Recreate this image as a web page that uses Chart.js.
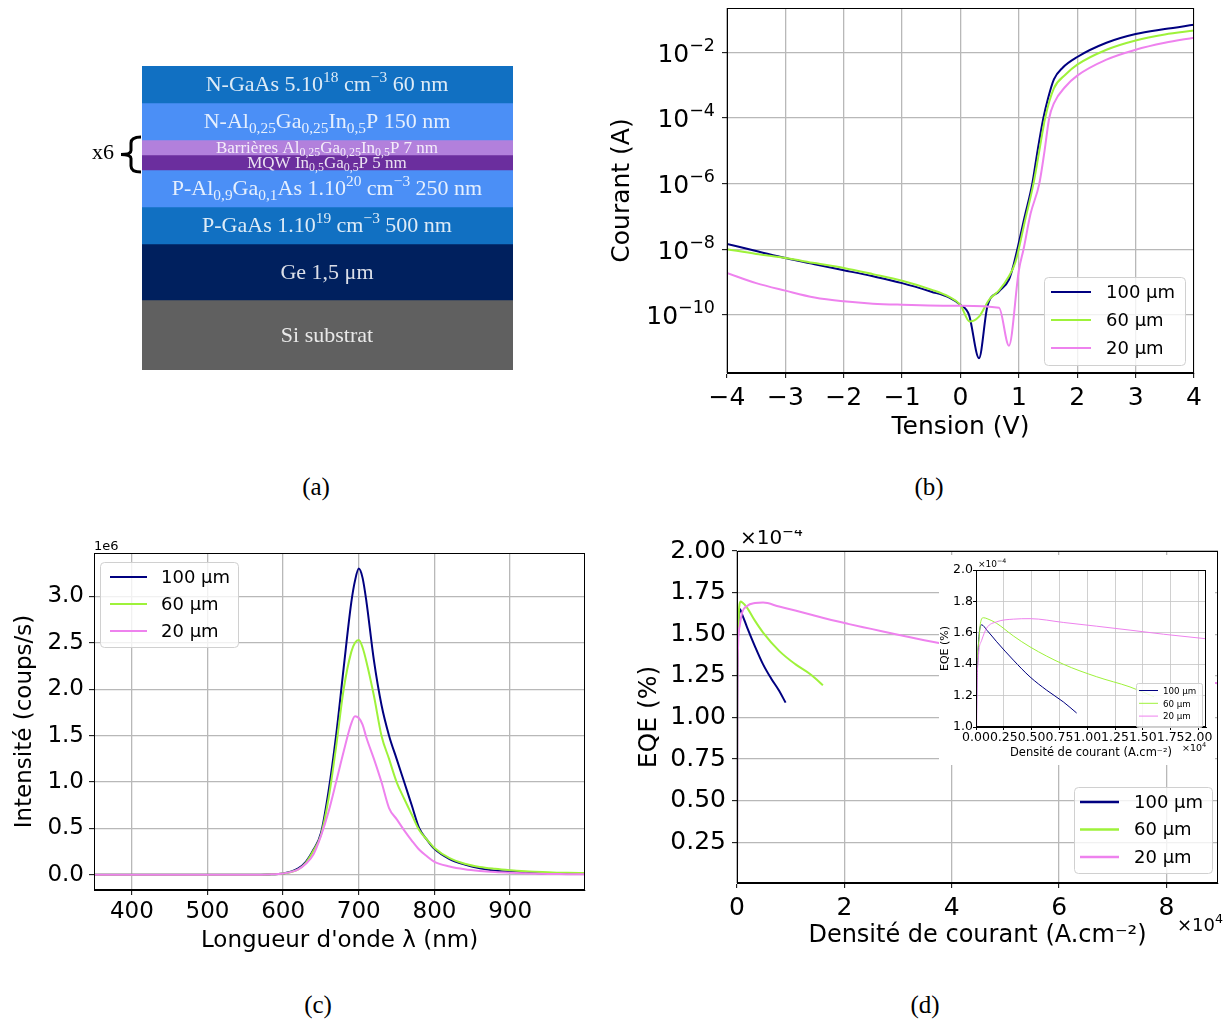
<!DOCTYPE html>
<html>
<head>
<meta charset="utf-8">
<script src="https://cdn.jsdelivr.net/npm/chart.js@4.4.1/dist/chart.umd.min.js"></script>
<style>
  html, body { margin: 0; padding: 0; background: #fff; }
  #fig { position: relative; width: 1224px; height: 1025px; overflow: hidden; background: #fff; }
  .panel { position: absolute; }
  .panel canvas { display: block; }
  .cap { position: absolute; transform: translate(-50%, -50%); font: 25px "Liberation Serif", "DejaVu Serif", serif; color: #000; }
</style>
</head>
<body>
<div id="fig">
  <div class="panel" style="left:80px;top:60px"><canvas id="stack" width="450" height="320"></canvas></div>
  <div class="panel" style="left:600px;top:0px"><canvas id="iv" width="624" height="450"></canvas></div>
  <div class="panel" style="left:0px;top:530px"><canvas id="spec" width="600" height="430"></canvas></div>
  <div class="panel" style="left:600px;top:530px"><canvas id="eqe" width="624" height="430"></canvas></div>
  <div class="panel" style="left:939px;top:555px"><canvas id="eqeZoom" width="276" height="210"></canvas></div>
  <div class="cap" style="left:316px;top:487px">(a)</div>
  <div class="cap" style="left:929px;top:487px">(b)</div>
  <div class="cap" style="left:318px;top:1005px">(c)</div>
  <div class="cap" style="left:925px;top:1005px">(d)</div>
</div>
<script>
"use strict";

// ── (a) layer stack (schematic thickness, not to scale) ───────────────
const layerLabels = [
  'N-GaAs 5.10^{18} cm^{\u22123} 60 nm',
  'N-Al_{0,25}Ga_{0,25}In_{0,5}P 150 nm',
  'Barri\u00e8res Al_{0,25}Ga_{0,25}In_{0,5}P 7 nm',
  'MQW In_{0,5}Ga_{0,5}P 5 nm',
  'P-Al_{0,9}Ga_{0,1}As 1.10^{20} cm^{\u22123} 250 nm',
  'P-GaAs 1.10^{19} cm^{\u22123} 500 nm',
  'Ge 1,5 \u03bcm',
  'Si substrat'
];
const layerThickness = [37, 37, 15, 15, 37, 37, 56, 70];
const layerColors = ['#1170c2', '#4b8ff6', '#b280dc', '#6b2e9e', '#4b8ff6', '#1170c2', '#00205e', '#606060'];
const layerFont = [22, 22, 17, 17, 22, 22, 22, 22];

// ── shared series ─────────────────────────────────────────────────────
const seriesLabels = ['100 \u00b5m', '60 \u00b5m', '20 \u00b5m'];
const seriesColors = ['#000080', '#9ef23a', '#ee82ee'];

// ── (b) I–V, log scale ────────────────────────────────────────────────
const ivV100 = [-4, -3.5, -3, -2.5, -2, -1.5, -1, -0.5, -0.2, 0, 0.146, 0.317, 0.46, 0.66, 0.83, 0.91, 1.1, 1.23, 1.32, 1.42, 1.5, 1.6, 1.75, 2, 2.5, 3, 3.5, 4];
const ivI100 = [1.45e-8, 8.9e-9, 5.4e-9, 3.5e-9, 2.3e-9, 1.5e-9, 9.3e-10, 5.1e-10, 3.4e-10, 2.0e-10, 1.0e-10, 4.8e-12, 1.8e-10, 5.2e-10, 1.2e-9, 3.4e-9, 1e-7, 1e-6, 1e-5, 1e-4, 4e-4, 1.5e-3, 3.4e-3, 7.2e-3, 1.95e-2, 3.6e-2, 5.1e-2, 6.9e-2];
const ivV60 = [-4, -3.5, -3, -2.5, -2, -1.5, -1, -0.5, -0.2, 0, 0.154, 0.317, 0.49, 0.66, 0.83, 0.94, 1.1, 1.25, 1.35, 1.45, 1.6, 1.8, 2, 2.5, 3, 3.5, 4];
const ivI60 = [1e-8, 7.2e-9, 5.4e-9, 3.8e-9, 2.7e-9, 1.75e-9, 1.1e-9, 5.9e-10, 3.6e-10, 2.0e-10, 6.3e-11, 8.9e-11, 2.9e-10, 5.6e-10, 1.5e-9, 4e-9, 6.8e-8, 1e-6, 1e-5, 1e-4, 8e-4, 2.1e-3, 4.2e-3, 1.2e-2, 2.3e-2, 3.5e-2, 4.6e-2];
const ivV20 = [-4, -3.5, -3, -2.5, -2, -1.5, -1, 0, 0.66, 0.83, 1.0, 1.08, 1.2, 1.35, 1.44, 1.52, 1.6, 1.8, 2, 2.5, 3, 3.5, 4];
const ivI20 = [1.9e-9, 9.3e-10, 5.5e-10, 3.4e-10, 2.6e-10, 2.2e-10, 2.05e-10, 1.9e-10, 1.65e-10, 1.15e-11, 2.3e-9, 1e-8, 1.2e-7, 1e-6, 1e-5, 1e-4, 2.8e-4, 9.1e-4, 1.95e-3, 6e-3, 1.2e-2, 1.95e-2, 2.8e-2];
const ivXTicks = [-4, -3, -2, -1, 0, 1, 2, 3, 4];
const ivYTicks = [1e-10, 1e-8, 1e-6, 1e-4, 1e-2];

// ── (c) spectra (intensity ×1e6) ─────────────────────────────────────
const wavelength = [350, 400, 450, 500, 550, 580, 600, 620, 630, 640, 650, 660, 670, 680, 690, 695, 700, 705, 710, 720, 730, 740, 750, 760, 770, 780, 790, 800, 820, 840, 860, 880, 900, 925, 950, 975, 1000];
const spec100 = [0, 0, 0, 0, 0.002, 0.005, 0.015, 0.07, 0.14, 0.27, 0.45, 0.9, 1.5, 2.23, 2.93, 3.17, 3.30, 3.2, 2.95, 2.31, 1.83, 1.5, 1.25, 1.0, 0.75, 0.5, 0.38, 0.28, 0.17, 0.11, 0.07, 0.045, 0.035, 0.025, 0.015, 0.012, 0.01];
const spec60 = [0, 0, 0, 0, 0.002, 0.005, 0.015, 0.06, 0.13, 0.26, 0.43, 0.82, 1.38, 2.0, 2.4, 2.5, 2.53, 2.45, 2.3, 1.93, 1.5, 1.25, 1.0, 0.82, 0.65, 0.48, 0.38, 0.29, 0.18, 0.12, 0.085, 0.065, 0.05, 0.035, 0.028, 0.022, 0.02];
const spec20 = [0, 0, 0, 0, 0.002, 0.005, 0.015, 0.06, 0.12, 0.22, 0.42, 0.68, 1.0, 1.33, 1.63, 1.71, 1.69, 1.62, 1.48, 1.25, 1.0, 0.72, 0.6, 0.48, 0.37, 0.27, 0.2, 0.14, 0.09, 0.06, 0.042, 0.03, 0.022, 0.015, 0.01, 0.008, 0.006];
const specXTicks = [400, 500, 600, 700, 800, 900];
const specYTicks = [0, 0.5, 1.0, 1.5, 2.0, 2.5, 3.0];

// ── (d) EQE (×1e-4 %) vs current density (×1e4 A.cm-2) ───────────────
const eqeJ100 = [0, 0.004, 0.012, 0.025, 0.05, 0.1, 0.186, 0.336, 0.486, 0.636, 0.785, 0.905];
const eqe100 = [0, 1.0, 1.35, 1.56, 1.651, 1.615, 1.543, 1.426, 1.319, 1.234, 1.16, 1.089];
const eqeJ60 = [0, 0.004, 0.02, 0.04, 0.066, 0.1, 0.186, 0.336, 0.486, 0.785, 1.085, 1.385, 1.6];
const eqe60 = [0, 1.2, 1.51, 1.66, 1.696, 1.69, 1.66, 1.58, 1.51, 1.40, 1.32, 1.255, 1.193];
const eqeJ20 = [0, 0.006, 0.02, 0.05, 0.096, 0.186, 0.336, 0.486, 0.785, 1.085, 1.385, 1.685, 2.07, 2.5, 3.0, 3.76, 5, 6, 7, 8, 8.95];
const eqe20 = [0, 1.0, 1.43, 1.55, 1.63, 1.67, 1.687, 1.69, 1.666, 1.642, 1.617, 1.591, 1.562, 1.532, 1.497, 1.447, 1.38, 1.33, 1.285, 1.245, 1.205];
const eqeXTicks = [0, 2, 4, 6, 8];
const eqeYTicks = [0.25, 0.5, 0.75, 1.0, 1.25, 1.5, 1.75, 2.0];
const zoomXTicks = [0, 0.25, 0.5, 0.75, 1.0, 1.25, 1.5, 1.75, 2.0];
const zoomYTicks = [1.0, 1.2, 1.4, 1.6, 1.8, 2.0];

Chart.defaults.font.family = '"DejaVu Sans", sans-serif';
Chart.defaults.color = '#000';

const SANS = '"DejaVu Sans", sans-serif';
const SERIF = '"Liberation Serif", "DejaVu Serif", serif';
const MINUS = '\u2212';

// ── Helpers ───────────────────────────────────────────────────────────
// "_{..}" subscript, "^{..}" superscript
function parseRich(s) {
  const out = [];
  const re = /([_^])\{([^}]*)\}/g;
  let last = 0, m;
  while ((m = re.exec(s))) {
    if (m.index > last) out.push([s.slice(last, m.index), 0]);
    out.push([m[2], m[1] === '_' ? 1 : -1]);
    last = re.lastIndex;
  }
  if (last < s.length) out.push([s.slice(last), 0]);
  return out;
}

// draws rich text; align 'center' or 'left', y is the baseline
function drawRich(ctx, s, x, y, size, family, align) {
  const parts = parseRich(s);
  const fontFor = k => (k ? size * 0.7 : size) + 'px ' + family;
  let w = 0;
  parts.forEach(p => { ctx.font = fontFor(p[1]); w += ctx.measureText(p[0]).width; });
  let cx = align === 'center' ? x - w / 2 : x;
  ctx.textAlign = 'left';
  ctx.textBaseline = 'alphabetic';
  parts.forEach(p => {
    ctx.font = fontFor(p[1]);
    const dy = p[1] === 1 ? size * 0.22 : p[1] === -1 ? -size * 0.42 : 0;
    ctx.fillText(p[0], cx, y + dy);
    cx += ctx.measureText(p[0]).width;
  });
}

const toPoints = (xs, ys) => xs.map((x, i) => ({ x, y: ys[i] }));
const fixTicks = list => s => { s.ticks = list.map(v => ({ value: v })); };
const signed = v => (v < 0 ? MINUS + Math.abs(v) : String(v));

function lineSets(pairs, width) {
  return pairs.map((p, i) => ({
    label: seriesLabels[i],
    data: toPoints(p[0], p[1]),
    borderColor: seriesColors[i],
    backgroundColor: seriesColors[i],
    borderWidth: width,
    pointRadius: 0,
    fill: false,
    cubicInterpolationMode: 'monotone',
    order: 2 - i
  }));
}

const framePlugin = {
  id: 'frame',
  afterDatasetsDraw(chart) {
    const { ctx, chartArea: a } = chart;
    ctx.save();
    ctx.strokeStyle = '#000';
    ctx.lineWidth = 1;
    ctx.strokeRect(Math.round(a.left) + 0.5, Math.round(a.top) + 0.5,
      Math.round(a.right - a.left) - 1, Math.round(a.bottom - a.top) - 1);
    ctx.restore();
  }
};

function boxLegend(cfg) {
  return {
    id: 'boxLegend',
    afterDraw(chart) {
      const ctx = chart.ctx;
      ctx.save();
      ctx.beginPath();
      if (ctx.roundRect) ctx.roundRect(cfg.x + 0.5, cfg.y + 0.5, cfg.w, cfg.h, cfg.r);
      else ctx.rect(cfg.x + 0.5, cfg.y + 0.5, cfg.w, cfg.h);
      ctx.fillStyle = 'rgba(255,255,255,0.8)';
      ctx.fill();
      ctx.strokeStyle = '#d0d0d0';
      ctx.lineWidth = 1;
      ctx.stroke();
      ctx.font = cfg.size + 'px ' + SANS;
      ctx.textBaseline = 'middle';
      ctx.textAlign = 'left';
      chart.data.datasets.forEach((ds, i) => {
        const y = cfg.y + cfg.first + i * cfg.step;
        ctx.strokeStyle = ds.borderColor;
        ctx.lineWidth = cfg.lw;
        ctx.beginPath();
        ctx.moveTo(cfg.x + cfg.s0, y);
        ctx.lineTo(cfg.x + cfg.s1, y);
        ctx.stroke();
        ctx.fillStyle = '#000';
        ctx.fillText(ds.label, cfg.x + cfg.tx, y + 1);
      });
      ctx.restore();
    }
  };
}

function notes(list) {
  return {
    id: 'notes',
    afterDraw(chart) {
      const ctx = chart.ctx;
      ctx.save();
      ctx.fillStyle = '#000';
      list.forEach(n => drawRich(ctx, n.text, n.x, n.y, n.size, SANS, 'left'));
      ctx.restore();
    }
  };
}

function axisOpts(o) {
  return {
    type: o.type || 'linear',
    min: o.min, max: o.max,
    afterBuildTicks: fixTicks(o.ticks),
    afterFit: o.horizontal ? s => { s.height = o.size; } : s => { s.width = o.size; },
    grid: { color: o.gridColor || '#b8b8b8', lineWidth: o.gridWidth || 1.3, tickColor: '#000', tickLength: o.tickLength || 5, tickWidth: 1 },
    border: { color: '#000', width: 1 },
    ticks: {
      display: o.showTicks !== false,
      font: { size: o.font }, padding: o.pad, color: '#000',
      maxRotation: 0, minRotation: 0, autoSkip: false,
      callback: o.format
    },
    title: { display: true, text: o.title, font: { size: o.titleFont || o.font }, color: '#000', padding: o.titlePad }
  };
}

const baseOpts = pad => ({
  responsive: false,
  animation: false,
  devicePixelRatio: 1,
  layout: { padding: pad },
  plugins: { legend: { display: false }, tooltip: { enabled: false } }
});

// ── (a) stacked layers ────────────────────────────────────────────────
const layerText = {
  id: 'layerText',
  afterDraw(chart) {
    const ctx = chart.ctx;
    ctx.save();
    chart.data.datasets.forEach((ds, i) => {
      const bar = chart.getDatasetMeta(i).data[0];
      const cy = (bar.y + bar.base) / 2;
      const size = layerFont[i];
      ctx.fillStyle = 'rgba(255,255,255,0.86)';
      drawRich(ctx, ds.label, 327 - 80, cy + size * 0.3, size, SERIF, 'center');
    });
    // x6 brace next to the quantum well pair
    ctx.fillStyle = '#000';
    ctx.font = '22px ' + SERIF;
    ctx.textAlign = 'left';
    ctx.textBaseline = 'alphabetic';
    ctx.fillText('x6', 12, 99);
    const b0 = chart.getDatasetMeta(2).data[0], b1 = chart.getDatasetMeta(3).data[0];
    const top = b0.base - 3, bot = b1.y + 2, mid = (top + bot) / 2;
    ctx.strokeStyle = '#000';
    ctx.lineWidth = 3;
    ctx.beginPath();
    ctx.moveTo(61, top);
    ctx.quadraticCurveTo(51, top, 51, top + 6);
    ctx.lineTo(51, mid - 4);
    ctx.quadraticCurveTo(51, mid, 41, mid);
    ctx.quadraticCurveTo(51, mid, 51, mid + 4);
    ctx.lineTo(51, bot - 6);
    ctx.quadraticCurveTo(51, bot, 61, bot);
    ctx.stroke();
    ctx.restore();
  }
};

new Chart(document.getElementById('stack'), {
  type: 'bar',
  data: {
    labels: [''],
    datasets: layerLabels.map((lab, i) => ({
      label: lab,
      data: [layerThickness[i]],
      backgroundColor: layerColors[i],
      borderWidth: 0,
      barPercentage: 1,
      categoryPercentage: 1,
      stack: 'layers'
    }))
  },
  options: Object.assign(baseOpts({ left: 62, right: 17, top: 6, bottom: 10 }), {
    scales: {
      x: { display: false, stacked: true },
      y: { display: false, stacked: true, reverse: true, min: 0, max: layerThickness.reduce((a, b) => a + b, 0) }
    }
  }),
  plugins: [layerText]
});

// ── (b) I–V ───────────────────────────────────────────────────────────
const expTicks = {
  id: 'expTicks',
  afterDraw(chart) {
    const { ctx, scales: { y }, chartArea } = chart;
    const right = chartArea.left - 12;
    ctx.save();
    ctx.fillStyle = '#000';
    ctx.textAlign = 'left';
    ctx.textBaseline = 'alphabetic';
    y.ticks.forEach(t => {
      const e = Math.round(Math.log10(t.value));
      const py = y.getPixelForValue(t.value);
      const sup = (e < 0 ? MINUS : '') + Math.abs(e);
      ctx.font = '17.5px ' + SANS;
      const ws = ctx.measureText(sup).width;
      ctx.font = '25px ' + SANS;
      const wb = ctx.measureText('10').width;
      const base = py + 9.3;
      ctx.fillText('10', right - ws - wb, base);
      ctx.font = '17.5px ' + SANS;
      ctx.fillText(sup, right - ws, base - 11);
    });
    ctx.restore();
  }
};

new Chart(document.getElementById('iv'), {
  type: 'line',
  data: { datasets: lineSets([[ivV100, ivI100], [ivV60, ivI60], [ivV20, ivI20]], 2) },
  options: Object.assign(baseOpts({ left: 0, right: 30, top: 8, bottom: 0 }), {
    scales: {
      x: axisOpts({ horizontal: true, size: 77, min: -4, max: 4, ticks: ivXTicks, font: 25, pad: 5,
        format: v => signed(v), title: 'Tension (V)', titlePad: { bottom: 8 } }),
      y: axisOpts({ type: 'logarithmic', size: 127, min: 1.7e-12, max: 0.224, ticks: ivYTicks, font: 25, pad: 7,
        showTicks: false, title: 'Courant (A)', titlePad: { top: 7 } })
    }
  }),
  plugins: [framePlugin, expTicks,
    boxLegend({ x: 444, y: 277, w: 141, h: 88, r: 4, first: 15, step: 28, s0: 7, s1: 47, tx: 62, size: 18, lw: 2 })]
});

// ── (c) spectra ───────────────────────────────────────────────────────
new Chart(document.getElementById('spec'), {
  type: 'line',
  data: { datasets: lineSets([[wavelength, spec100], [wavelength, spec60], [wavelength, spec20]], 2) },
  options: Object.assign(baseOpts({ left: 0, right: 15, top: 23, bottom: 0 }), {
    scales: {
      x: axisOpts({ horizontal: true, size: 70, min: 350, max: 999, ticks: specXTicks, font: 23, pad: 3,
        format: v => String(v), title: "Longueur d'onde \u03bb (nm)", titlePad: { bottom: 5 } }),
      y: axisOpts({ size: 94, min: -0.163, max: 3.468, ticks: specYTicks, font: 23, pad: 5,
        format: v => v.toFixed(1), title: 'Intensit\u00e9 (coups/s)', titlePad: { top: 11 } })
    }
  }),
  plugins: [framePlugin, notes([{ text: '1e6', x: 94, y: 20, size: 13 }]),
    boxLegend({ x: 100, y: 32, w: 138, h: 85, r: 4, first: 15, step: 27, s0: 10, s1: 47, tx: 61, size: 18, lw: 2 })]
});

// ── (d) EQE ───────────────────────────────────────────────────────────
const eqePairs = [[eqeJ100, eqe100], [eqeJ60, eqe60], [eqeJ20, eqe20]];

new Chart(document.getElementById('eqe'), {
  type: 'line',
  data: { datasets: lineSets(eqePairs, 2) },
  options: Object.assign(baseOpts({ left: 0, right: 6, top: 19, bottom: 0 }), {
    scales: {
      x: axisOpts({ horizontal: true, size: 77, min: 0, max: 8.96, ticks: eqeXTicks, font: 25, pad: 5,
        format: v => String(v), title: 'Densit\u00e9 de courant (A.cm\u207b\u00b2)', titleFont: 24, titlePad: { bottom: 10 } }),
      y: axisOpts({ size: 137, min: 0.005, max: 2.0, ticks: eqeYTicks, font: 25, pad: 6,
        format: v => v.toFixed(2), title: 'EQE (%)', titlePad: { top: 34 } })
    }
  }),
  plugins: [framePlugin,
    notes([{ text: '\u00d710^{\u22124}', x: 140, y: 14, size: 20 }, { text: '\u00d710^{4}', x: 577, y: 401, size: 18 }]),
    boxLegend({ x: 474, y: 257, w: 138, h: 86, r: 4, first: 15, step: 27.5, s0: 6, s1: 45, tx: 60, size: 18, lw: 2.5 })]
});

// inset: zoom on low current densities
const whiteBg = {
  id: 'whiteBg',
  beforeDraw(chart) {
    const ctx = chart.ctx;
    ctx.save();
    ctx.fillStyle = '#fff';
    ctx.fillRect(0, 0, chart.width, chart.height);
    ctx.restore();
  }
};

new Chart(document.getElementById('eqeZoom'), {
  type: 'line',
  data: { datasets: lineSets(eqePairs, 1) },
  options: Object.assign(baseOpts({ left: 0, right: 9, top: 15, bottom: 0 }), {
    scales: {
      x: axisOpts({ horizontal: true, size: 38, min: 0, max: 2.068, ticks: zoomXTicks, font: 12.5, pad: 0, tickLength: 3,
        gridColor: '#c4c4c4', gridWidth: 0.8,
        format: v => v.toFixed(2), title: 'Densit\u00e9 de courant (A.cm\u207b\u00b2)', titleFont: 11.5, titlePad: { bottom: 5 } }),
      y: axisOpts({ size: 37, min: 1.0, max: 2.0, ticks: zoomYTicks, font: 12.5, pad: 0, tickLength: 3,
        gridColor: '#c4c4c4', gridWidth: 0.8,
        format: v => v.toFixed(1), title: 'EQE (%)', titleFont: 11, titlePad: { top: 0 } })
    }
  }),
  plugins: [whiteBg, framePlugin,
    notes([{ text: '\u00d710^{\u22124}', x: 39, y: 12, size: 9 }, { text: '\u00d710^{4}', x: 243, y: 196, size: 9.5 }]),
    boxLegend({ x: 197, y: 128, w: 66, h: 44, r: 2, first: 7.5, step: 12.8, s0: 3, s1: 22, tx: 27, size: 8.7, lw: 1 })]
});
</script>
</body>
</html>
